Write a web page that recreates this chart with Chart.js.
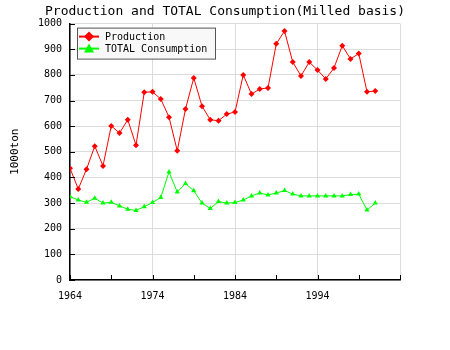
<!DOCTYPE html>
<html>
<head>
<meta charset="utf-8">
<script src="https://cdn.jsdelivr.net/npm/chart.js@4/dist/chart.umd.min.js"></script>
<style>
  html, body { margin: 0; padding: 0; background: #fff; }
  #wrap { width: 450px; height: 350px; }
</style>
</head>
<body>
<div id="wrap"><canvas id="chart"></canvas></div>
<script>
const years = [1964, 1965, 1966, 1967, 1968, 1969, 1970, 1971, 1972, 1973,
  1974, 1975, 1976, 1977, 1978, 1979, 1980, 1981, 1982, 1983,
  1984, 1985, 1986, 1987, 1988, 1989, 1990, 1991, 1992, 1993,
  1994, 1995, 1996, 1997, 1998, 1999, 2000, 2001];
const production = [436, 355, 432, 522, 445, 601, 573, 625, 526, 732,
  734, 706, 635, 504, 667, 788, 678, 625, 621, 647,
  655, 800, 725, 745, 749, 921, 971, 850, 796, 850,
  819, 784, 827, 914, 862, 883, 734, 737];
const consumption = [325, 312, 303, 319, 300, 303, 289, 276, 271, 286,
  302, 322, 421, 343, 376, 348, 300, 279, 306, 300,
  302, 312, 328, 339, 332, 339, 349, 335, 328, 328,
  328, 328, 328, 328, 333, 335, 273, 300];
const xLabels = [1964, 1974, 1984, 1994];

const mono = "'DejaVu Sans Mono', 'Liberation Mono', monospace";

function toPoints(values) {
  return years.map((year, i) => ({ x: year, y: values[i] }));
}

// ticks in this chart point into the plot, so they are drawn here
const innerTicks = {
  id: "innerTicks",
  afterDraw(chart) {
    const ctx = chart.ctx;
    const area = chart.chartArea;
    const xs = chart.scales.x;
    const ys = chart.scales.y;
    ctx.save();
    ctx.strokeStyle = "#000";
    ctx.lineWidth = 1;
    ctx.beginPath();
    xs.ticks.forEach((t) => {
      const px = Math.round(xs.getPixelForValue(t.value)) + 0.5;
      ctx.moveTo(px, area.bottom);
      ctx.lineTo(px, area.bottom - 5);
    });
    ys.ticks.forEach((t) => {
      const py = Math.round(ys.getPixelForValue(t.value)) + 0.5;
      ctx.moveTo(area.left, py);
      ctx.lineTo(area.left + 5, py);
    });
    ctx.stroke();
    ctx.restore();
  }
};

function drawMarker(ctx, style, cx, cy, r) {
  ctx.beginPath();
  if (style === "triangle") {
    ctx.moveTo(cx, cy - r);
    ctx.lineTo(cx + r, cy + r * 0.8);
    ctx.lineTo(cx - r, cy + r * 0.8);
  } else {
    ctx.moveTo(cx, cy - r);
    ctx.lineTo(cx + r, cy);
    ctx.lineTo(cx, cy + r);
    ctx.lineTo(cx - r, cy);
  }
  ctx.closePath();
  ctx.fill();
}

const boxLegend = {
  id: "boxLegend",
  afterDraw(chart) {
    const ctx = chart.ctx;
    const left = chart.chartArea.left + 7;
    const top = chart.chartArea.top + 4;
    ctx.save();
    ctx.fillStyle = "#f8f8f8";
    ctx.fillRect(left, top, 138, 31);
    ctx.strokeStyle = "#555";
    ctx.lineWidth = 1;
    ctx.strokeRect(left + 0.5, top + 0.5, 138, 31);
    ctx.font = "10px " + mono;
    ctx.textBaseline = "middle";
    chart.data.datasets.forEach((ds, i) => {
      const cy = top + 9 + i * 12;
      ctx.strokeStyle = ds.borderColor;
      ctx.lineWidth = 2;
      ctx.beginPath();
      ctx.moveTo(left + 2, cy);
      ctx.lineTo(left + 22, cy);
      ctx.stroke();
      ctx.fillStyle = ds.pointBackgroundColor;
      drawMarker(ctx, ds.pointStyle, left + 12, cy, 5);
      ctx.fillStyle = "#000";
      ctx.fillText(ds.label, left + 28, cy + 1);
    });
    ctx.restore();
  }
};

new Chart(document.getElementById("chart"), {
  type: "line",
  data: {
    datasets: [
      {
        label: "Production",
        data: toPoints(production),
        borderColor: "#ff0000",
        borderWidth: 1,
        pointStyle: "rectRot",
        pointRadius: 3,
        pointBackgroundColor: "#ff0000",
        pointBorderColor: "#ff0000",
        pointBorderWidth: 0,
        tension: 0
      },
      {
        label: "TOTAL Consumption",
        data: toPoints(consumption),
        borderColor: "#00ff00",
        borderWidth: 1,
        pointStyle: "triangle",
        pointRadius: 3,
        pointBackgroundColor: "#00ff00",
        pointBorderColor: "#00ff00",
        pointBorderWidth: 0,
        tension: 0
      }
    ]
  },
  options: {
    responsive: true,
    maintainAspectRatio: false,
    animation: false,
    events: [],
    layout: { padding: 0 },
    plugins: {
      legend: { display: false },
      tooltip: { enabled: false },
      title: {
        display: true,
        text: "Production and TOTAL Consumption(Milled basis)",
        color: "#000",
        font: { family: mono, size: 13, weight: "normal" },
        padding: { top: 4, bottom: 4 }
      }
    },
    scales: {
      x: {
        type: "linear",
        min: 1964,
        max: 2004,
        afterFit(scale) { scale.height = 70; },
        ticks: {
          stepSize: 5,
          autoSkip: false,
          maxRotation: 0,
          color: "#000",
          font: { family: mono, size: 10 },
          padding: 10,
          callback: (v) => (xLabels.includes(v) ? String(v) : "")
        },
        grid: {
          drawTicks: false,
          color: (c) => (c.tick && (c.tick.value - 1964) % 10 === 0 ? "#dcdcdc" : "rgba(0,0,0,0)")
        },
        border: { color: "#000", width: 1.5 }
      },
      y: {
        min: 0,
        max: 1000,
        afterFit(scale) { scale.width = 70; },
        ticks: {
          stepSize: 100,
          color: "#000",
          font: { family: mono, size: 10 },
          padding: 8,
          callback: (v) => String(v)
        },
        grid: { drawTicks: false, color: "#dcdcdc" },
        border: { color: "#000", width: 1.5 },
        title: {
          display: true,
          text: "1000ton",
          color: "#000",
          font: { family: mono, size: 11 },
          padding: { top: 9, bottom: 0 }
        }
      },
      // empty right margin so the title centres on the whole canvas
      margin: {
        position: "right",
        afterFit(scale) { scale.width = 50; },
        ticks: { display: false },
        grid: { display: false },
        border: { display: false }
      }
    }
  },
  plugins: [innerTicks, boxLegend]
});
</script>
</body>
</html>
